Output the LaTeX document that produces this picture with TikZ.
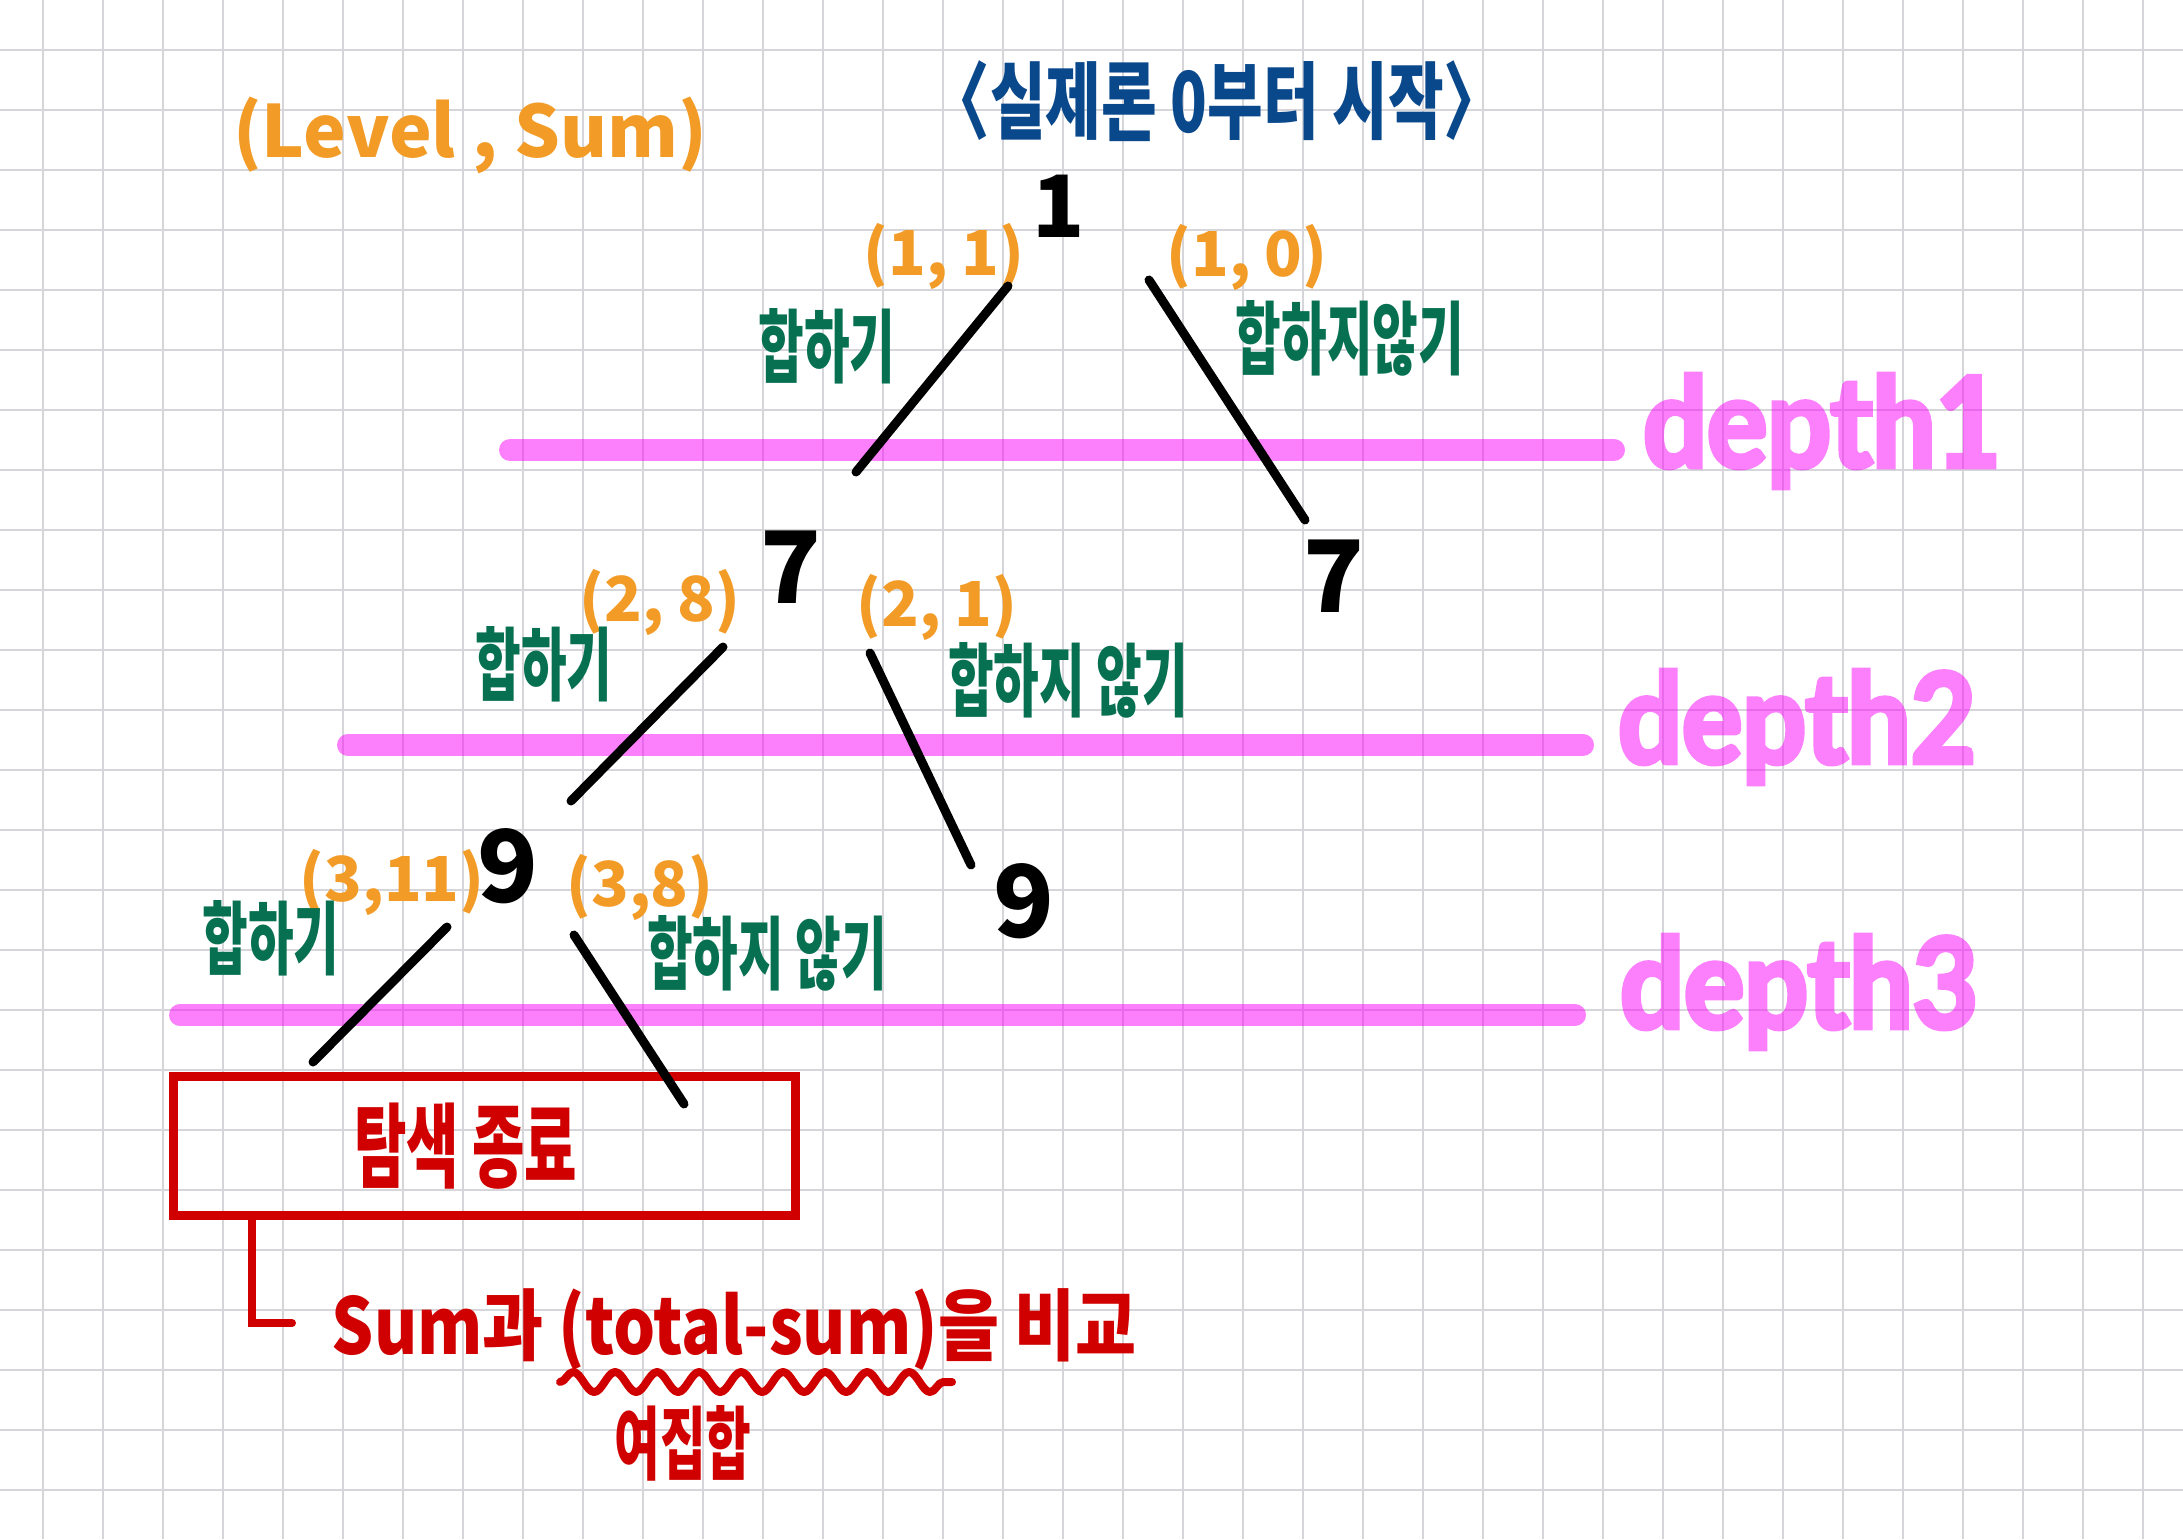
\documentclass[tikz,border=0pt]{standalone}
\usepackage{fontspec}
\usetikzlibrary{calc,decorations.pathmorphing}
\newfontfamily\krn{Noto Sans CJK KR}[FakeStretch=0.62]
\newfontfamily\krt{Noto Sans CJK KR}[FakeStretch=0.72]
\newfontfamily\krw{Noto Sans CJK KR}[FakeStretch=0.85]
\newfontfamily\krp{Noto Sans CJK KR}
\newfontfamily\dep{Lato}[FakeStretch=0.9, FakeBold=4]
\definecolor{gridc}{RGB}{214,214,218}
\definecolor{org}{RGB}{242,155,38}
\definecolor{grn}{RGB}{6,112,80}
\definecolor{blu}{RGB}{10,72,140}
\definecolor{redc}{RGB}{208,0,0}
\definecolor{mag}{RGB}{250,0,250}
\tikzset{
  num/.style={font=\krp\bfseries\fontsize{100}{100}\selectfont, inner sep=0pt, text=black},
  numsmall/.style={num, font=\krp\bfseries\fontsize{86}{86}\selectfont},
  pairtxt/.style={font=\krp\bfseries\fontsize{62}{62}\selectfont, inner sep=0pt, text=org},
  act/.style={font=\krn\bfseries\fontsize{80}{80}\selectfont, inner sep=0pt, text=grn},
  link/.style={line width=9pt, line cap=round, black},
  depthline/.style={line width=22pt, line cap=round, mag, opacity=0.5},
  depthtxt/.style={font=\dep\bfseries\fontsize{125}{125}\selectfont, text=mag, inner sep=0pt},
  redtxt/.style={font=\krn\bfseries\fontsize{80}{80}\selectfont, text=redc, inner sep=0pt},
  redline/.style={line width=8pt, line cap=round, redc},
}
\begin{document}
\begin{tikzpicture}[x=1pt,y=-1pt]
\useasboundingbox (0,0) rectangle (2183,1539);
\fill[white] (0,0) rectangle (2183,1539);
% grid
\foreach \i in {0,...,35} \draw[gridc, line width=1.5pt] ({43+60*\i},0) -- ({43+60*\i},1539);
\foreach \j in {0,...,24} \draw[gridc, line width=1.5pt] (0,{50+60*\j}) -- (2183,{50+60*\j});
% depth lines and labels
\draw[depthline] (510,450) -- (1614,450);
\draw[depthline] (348,745) -- (1583,745);
\draw[depthline] (180,1015) -- (1575,1015);
\begin{scope}[transparency group, opacity=0.5]
\node[depthtxt] (d1) at (1822,431) {depth1};
\node[depthtxt] (d2) at (1797,727) {depth2};
\node[depthtxt] (d3) at (1799,992) {depth3};
\end{scope}
% headings
\node[font=\krp\bfseries\fontsize{72}{72}\selectfont, text=org, inner sep=0pt] (legend) at (470,135) {(Level , Sum)};
\node[font=\krt\bfseries\fontsize{84}{84}\selectfont, text=blu, inner sep=0pt] (title) at (1217,101) {〈실제론 0부터 시작〉};
% tree nodes
\node[numsmall] (root) at (1059,206) {1};
\node[num] (n7a) at (791,567) {7};
\node[num] (n7b) at (1334,576) {7};
\node[num] (n9a) at (508,866) {9};
\node[num] (n9b) at (1024,901) {9};
\node[draw=redc, line width=9pt, minimum width=622pt, minimum height=139pt, inner sep=0pt, outer sep=0pt,
      font=\krn\bfseries\fontsize{92}{92}\selectfont, text=redc] (box) at (484.5,1146) {탐색 종료\hspace*{38pt}};
% pair labels
\node[pairtxt] (p11) at (944,256) {(1, 1)};
\node[pairtxt] (p10) at (1247,257) {(1, 0)};
\node[pairtxt] (p28) at (660,602) {(2, 8)};
\node[pairtxt] (p21) at (937,607) {(2, 1)};
\node[pairtxt] (p311) at (392,882) {(3,11)};
\node[pairtxt] (p38) at (640,887) {(3,8)};
% action labels
\node[act] (a1) at (827,346) {합하기};
\node[act] (b1) at (1350,338) {합하지않기};
\node[act] (a2) at (544,664) {합하기};
\node[act] (b2) at (1068,680) {합하지 않기};
\node[act] (a3) at (271,938) {합하기};
\node[act] (b3) at (767,953) {합하지 않기};
% edges
\draw[link] ($(root)+(-51,80)$) -- ($(n7a)+(65,-95)$);
\draw[link] ($(root)+(90,74)$) -- ($(n7b)+(-29,-56)$);
\draw[link] ($(n7a)+(-68,80)$) -- ($(n9a)+(63,-65)$);
\draw[link] ($(n7a)+(79,86)$) -- ($(n9b)+(-53,-36)$);
\draw[link] ($(n9a)+(-61,61)$) -- ($(box)+(-171.5,-84)$);
\draw[link] ($(n9a)+(66,69)$) -- ($(box)+(199.5,-42)$);
% note
\node[font=\krw\bfseries\fontsize{78}{78}\selectfont, text=redc, inner sep=0pt] (cmp) at (734,1330) {Sum과 (total-sum)을 비교};
\coordinate (cend) at (292,1323);
\draw[redline] ($(box.south west)+(78.5,0)$) |- (cend);
\coordinate (w1) at (560,1382);
\coordinate (w2) at (952,1382);
\draw[redc, line width=8pt, line cap=round, line join=round, decorate, decoration={snake, amplitude=10pt, segment length=42pt}] (w1) -- (w2);
\node[redtxt] (comp) at (683,1443) {여집합};
\end{tikzpicture}
\end{document}
